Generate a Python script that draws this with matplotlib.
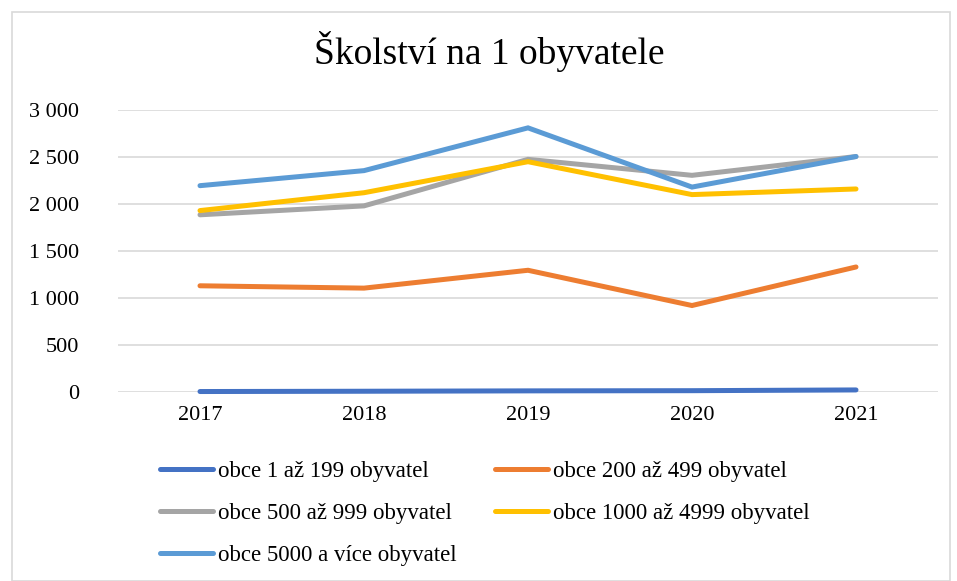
import matplotlib
matplotlib.use("Agg")
import matplotlib.pyplot as plt
from matplotlib.patches import Rectangle

plt.rcParams['font.family'] = ['Liberation Serif', 'DejaVu Serif']

years = ['2017', '2018', '2019', '2020', '2021']
series_names = ['obce 1 až 199 obyvatel', 'obce 200 až 499 obyvatel',
                'obce 500 až 999 obyvatel', 'obce 1000 až 4999 obyvatel',
                'obce 5000 a více obyvatel']
v_1_199 = [5, 8, 12, 14, 22]
v_200_499 = [1130, 1105, 1295, 920, 1330]
v_500_999 = [1885, 1980, 2475, 2305, 2505]
v_1000_4999 = [1930, 2120, 2450, 2100, 2160]
v_5000 = [2195, 2355, 2810, 2180, 2505]
values = [v_1_199, v_200_499, v_500_999, v_1000_4999, v_5000]
colors = ['#4472C4', '#ED7D31', '#A5A5A5', '#FFC000', '#5B9BD5']
yticks = [0, 500, 1000, 1500, 2000, 2500, 3000]
ytick_labels = ['0', '500', '1 000', '1 500', '2 000', '2 500', '3 000']

W, H = 957, 581
fig = plt.figure(figsize=(W/100, H/100), dpi=100)
fig.patches.append(Rectangle((12/W, 0), (950-12)/W, 1-12/H, transform=fig.transFigure,
                             fill=False, edgecolor='#d9d9d9', linewidth=1.2))
ax = fig.add_axes([118/W, 1-392/H, (938-118)/W, (392-110)/H])

x = list(range(len(years)))
lines = []
for name, v, c in zip(series_names, values, colors):
    l, = ax.plot(x, v, color=c, linewidth=3.6, label=name, solid_capstyle='round',
                 solid_joinstyle='miter', clip_on=False)
    lines.append(l)

ax.set_xlim(-0.5, len(years) - 0.5)
ax.set_ylim(0, 3000)
ax.set_yticks(yticks)
ax.set_yticklabels(ytick_labels)
ax.set_xticks(x)
ax.set_xticklabels(years)
ax.grid(axis='y', color='#d9d9d9', linewidth=1.2)
ax.set_axisbelow(True)
for s in ax.spines.values():
    s.set_visible(False)
ax.tick_params(length=0, labelsize=16, colors='black')
ax.tick_params(axis='y', pad=28)
ax.tick_params(axis='x', pad=10)

fig.text(489/W, 1-52/H, 'Školství na 1 obyvatele', ha='center', va='center', fontsize=27)

order = [0, 2, 4, 1, 3]
leg = fig.legend([lines[i] for i in order], [series_names[i] for i in order],
                 ncol=2, loc='upper left', bbox_to_anchor=(160/W, 1-461/H),
                 frameon=False, fontsize=16.5, handlelength=2.3, handletextpad=0.25,
                 columnspacing=1.65, labelspacing=0.92, borderaxespad=0, borderpad=0)

fig.savefig('out.png', dpi=100)
